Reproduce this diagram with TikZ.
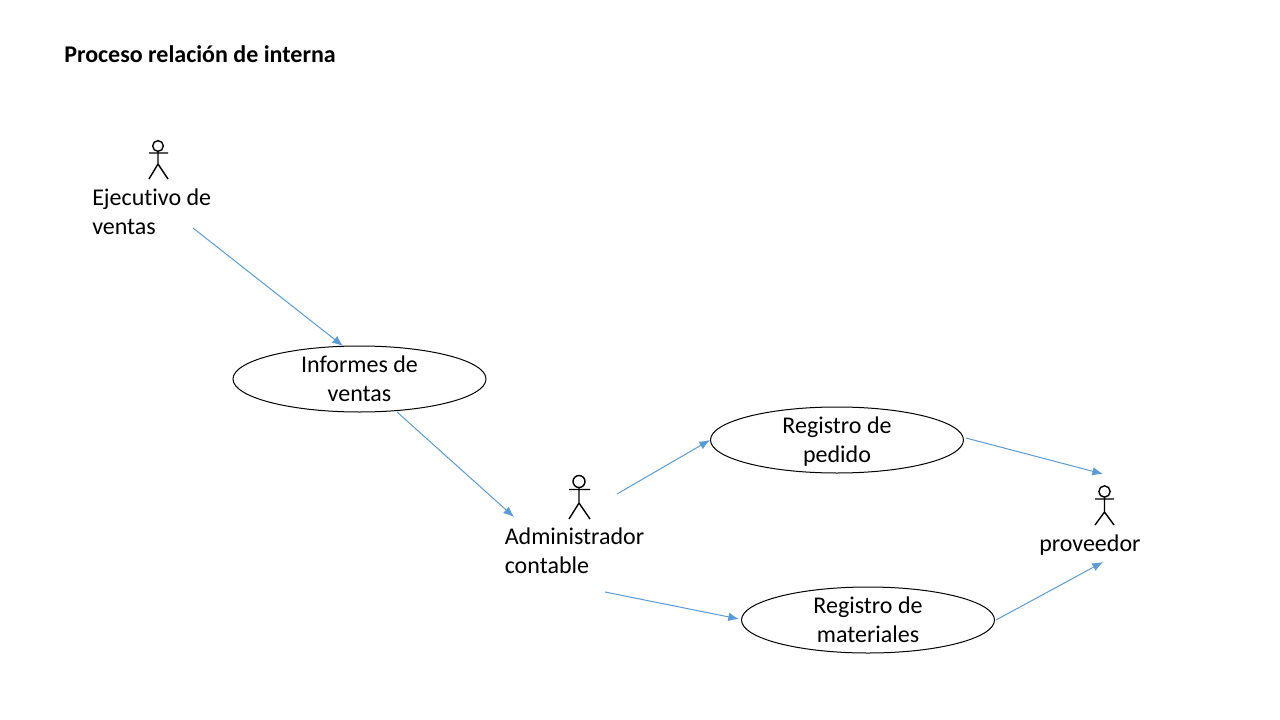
\documentclass[tikz,border=0pt]{standalone}
\usepackage{fontspec}
\setmainfont[Ligatures=NoCommon]{Carlito}
\usetikzlibrary{arrows.meta,shapes.geometric}
\definecolor{conn}{HTML}{5B9BD5}
\newcommand{\topstrut}{\rule{0pt}{19pt}}
\tikzset{
  x=0.75pt,y=-0.75pt,
  usecase/.style={draw=black,line width=0.75pt,ellipse,minimum width=189.75pt,minimum height=49.5pt,inner xsep=0pt,inner ysep=-8pt,align=center,font=\fontsize{18}{21.75}\selectfont},
  lbl/.style={inner sep=0pt,align=left,font=\fontsize{18}{21.75}\selectfont,anchor=west},
  flow/.style={draw=conn,line width=0.75pt,-{Latex[length=8pt,width=6.5pt]}},
  stick/.style={draw=black,line width=1.05pt},
  head/.style={circle,draw=black,line width=1.05pt,inner sep=0pt},
}
\begin{document}
\begin{tikzpicture}
\useasboundingbox (0,0) rectangle (1280,720);
\fill[white] (0,0) rectangle (1280,720);
\node[lbl,font=\fontsize{18}{22}\selectfont\bfseries] (title) at (64,54) {Proceso relación de interna};
% use cases
\node[usecase] (informes) at (359.5,379) {\topstrut Informes de\\\strut ventas};
\node[usecase] (pedido) at (837,440) {\topstrut Registro de\\\strut pedido};
\node[usecase] (materiales) at (868,620) {\topstrut Registro de\\\strut materiales};
% actor labels
\node[lbl] (ejecutivo) at (92,214) {\strut Ejecutivo de\\\strut ventas};
\node[lbl] (admin) at (504.5,553.5) {\strut Administrador\\\strut contable};
\node[lbl] (proveedor) at (1039,546) {\strut proveedor};
% actors
\node[head,minimum size=8pt] (h1) at (158,146) {};
\draw[stick] (h1.south) -- (158,164) (149,153) -- (168,153) (149,179) -- (158,164) -- (168,179);
\node[head,minimum size=9pt] (h2) at (579,481.5) {};
\draw[stick] (h2.south) -- (579,503) (569,489.5) -- (590,489.5) (569,519) -- (579,503) -- (590,519);
\node[head,minimum size=8.5pt] (h3) at (1104.5,491.5) {};
\draw[stick] (h3.south) -- (1104.5,512) (1095,499) -- (1114,499) (1095,525) -- (1104.5,512) -- (1114,525);
% free ends
\coordinate (a1) at (193,228);
\coordinate (a2) at (343,346);
\coordinate (b1) at (397,412);
\coordinate (b2) at (514,517);
\coordinate (c1) at (617,494);
\coordinate (c2) at (710,440);
\coordinate (d1) at (605,592);
\coordinate (d2) at (739,619);
\coordinate (e1) at (966,438);
\coordinate (e2) at (1103,474);
\coordinate (f1) at (996,620);
\coordinate (f2) at (1103,562);
\draw[flow] (a1) -- (a2);
\draw[flow] (b1) -- (b2);
\draw[flow] (c1) -- (c2);
\draw[flow] (d1) -- (d2);
\draw[flow] (e1) -- (e2);
\draw[flow] (f1) -- (f2);
\end{tikzpicture}
\end{document}
